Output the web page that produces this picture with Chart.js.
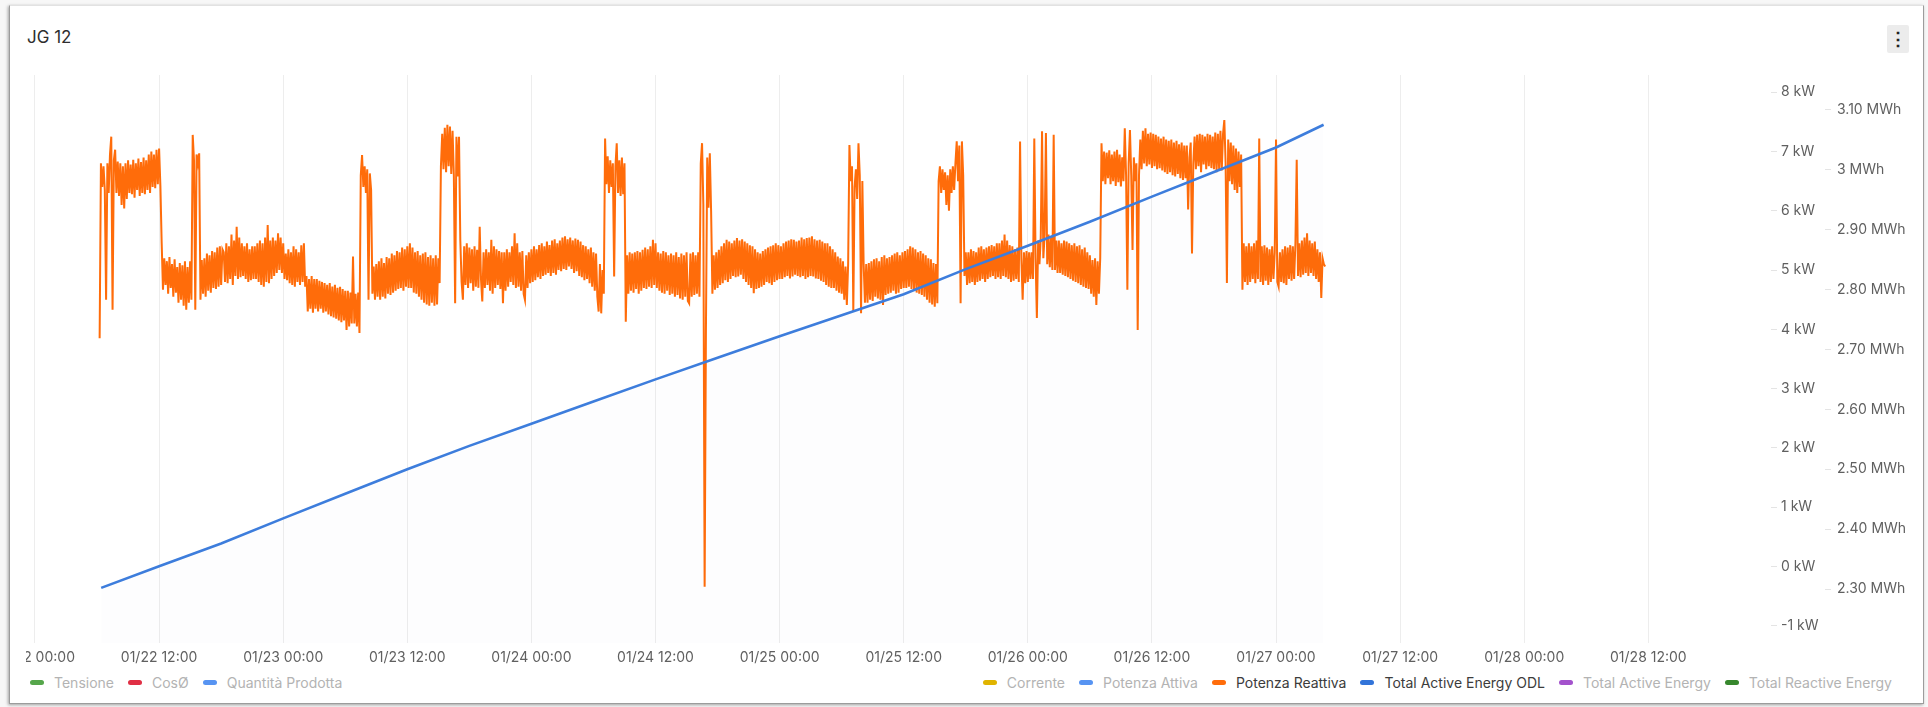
<!DOCTYPE html>
<html>
<head>
<meta charset="utf-8">
<script src="https://cdn.jsdelivr.net/npm/chart.js@4.4.1/dist/chart.umd.min.js"></script>
<style>
  html, body { margin: 0; padding: 0; background: #f7f7f7; }
  body { width: 1928px; height: 707px; position: relative; overflow: hidden; font-family: Inter, "Noto Sans", sans-serif; }
  #card { position: absolute; left: 9px; top: 5px; width: 1915px; height: 699px; box-sizing: border-box; background: #fff;
          border: 1px solid #9c9c9c; border-top-color: #e2e2e2; box-shadow: -1px 1px 3px rgba(0,0,0,0.35); overflow: hidden; }
  #title { position: absolute; left: 17px; top: 21px; font-size: 17px; color: #2e2e2e; }
  #menu { position: absolute; left: 1877px; top: 19px; width: 22px; height: 28px; background: #ececec; border-radius: 2px;
          color: #222; font-size: 18px; line-height: 28px; text-align: center; font-weight: bold; }
  #clip { position: absolute; left: 16px; top: 54px; width: 1930px; height: 616px; overflow: hidden; }
  #wrap { position: absolute; left: -66px; top: 0; width: 1990px; height: 610px; }
  .legend { position: absolute; top: 667px; height: 18px; display: flex; align-items: center; font-size: 14px; white-space: nowrap; }
  #legendLeft { left: 20px; }
  #legendRight { right: 31px; }
  .item { display: flex; align-items: center; margin-right: 14px; }
  .item:last-child { margin-right: 0; }
  .mark { width: 14px; height: 5px; border-radius: 3px; margin-right: 10px; }
</style>
</head>
<body>
<div id="card">
  <div id="title">JG 12</div>
  <div id="menu">&#8942;</div>
  <div id="clip"><div id="wrap"><canvas id="powerChart"></canvas></div></div>
  <div class="legend" id="legendLeft"></div>
  <div class="legend" id="legendRight"></div>
</div>
<script>
// hours are counted from 01/22 00:00, one row = 3 hours
const reactiveStartHour = 6.25;
const reactiveStepHours = 0.125;
const reactiveKw = [
  3.85, 6.80, 6.40, 6.75, 6.35, 4.50, 6.80, 6.30, 6.95, 7.25, 4.33, 6.85, 7.03, 6.30, 6.83, 6.25, 6.80, 6.10, 6.75, 6.04, 6.80, 6.20, 6.85, 6.30,
  6.78, 6.28, 6.86, 6.22, 6.80, 6.35, 6.88, 6.25, 6.82, 6.30, 6.90, 6.28, 6.85, 6.35, 6.95, 6.30, 7.00, 6.40, 6.95, 6.38, 7.03, 6.45, 7.05, 6.42,
  5.45, 4.67, 5.20, 4.75, 5.15, 4.60, 5.22, 4.70, 5.10, 4.55, 5.18, 4.62, 5.05, 4.45, 5.12, 4.50, 5.08, 4.40, 5.15, 4.33, 5.05, 4.45, 5.15, 4.50,
  7.28, 6.85, 4.33, 6.95, 6.80, 6.97, 4.50, 5.17, 4.60, 5.20, 4.55, 5.28, 4.65, 5.25, 4.62, 5.32, 4.70, 5.30, 4.68, 5.38, 4.72, 5.40, 4.75, 5.35,
  5.30, 4.80, 5.45, 4.78, 5.40, 4.85, 5.60, 4.75, 5.50, 4.90, 5.73, 4.85, 5.55, 4.88, 5.45, 4.90, 5.40, 4.85, 5.45, 4.80, 5.35, 4.83, 5.40, 4.85,
  5.40, 4.85, 5.45, 4.80, 5.50, 4.75, 5.45, 4.72, 5.55, 4.80, 5.76, 4.78, 5.50, 4.85, 5.55, 4.90, 5.50, 4.95, 5.62, 5.00, 5.55, 4.95, 5.45, 4.85,
  5.28, 4.83, 5.35, 4.78, 5.30, 4.75, 5.40, 4.72, 5.35, 4.80, 5.30, 4.75, 5.42, 4.80, 5.45, 4.72, 4.90, 4.30, 4.85, 4.35, 4.90, 4.28, 4.85, 4.35,
  4.85, 4.30, 4.82, 4.35, 4.80, 4.28, 4.78, 4.30, 4.75, 4.25, 4.78, 4.22, 4.72, 4.20, 4.75, 4.18, 4.70, 4.15, 4.72, 4.12, 4.68, 4.15, 4.65, 3.99,
  4.65, 4.05, 4.62, 4.10, 5.23, 4.10, 4.60, 4.05, 4.62, 3.94, 6.60, 6.94, 6.40, 6.75, 6.30, 6.70, 4.50, 6.63, 6.35, 4.60, 5.06, 4.50, 5.10, 4.55,
  5.15, 4.50, 5.20, 4.55, 5.12, 4.52, 5.22, 4.60, 5.20, 4.58, 5.28, 4.62, 5.25, 4.65, 5.32, 4.68, 5.30, 4.70, 5.38, 4.65, 5.35, 4.72, 5.40, 4.70,
  5.45, 4.70, 5.38, 4.62, 5.30, 4.60, 5.32, 4.55, 5.25, 4.50, 5.28, 4.45, 5.30, 4.42, 5.22, 4.40, 5.25, 4.45, 5.20, 4.40, 5.25, 4.42, 5.20, 4.78,
  6.75, 7.30, 6.70, 7.40, 6.65, 7.45, 6.75, 7.42, 6.62, 7.35, 6.60, 4.44, 7.25, 6.58, 7.25, 5.50, 4.80, 4.50, 5.40, 4.75, 5.45, 4.70, 5.38, 4.78,
  5.35, 4.65, 5.40, 4.72, 5.34, 4.70, 5.73, 4.85, 4.47, 5.30, 4.70, 5.35, 4.75, 5.30, 4.65, 5.51, 4.60, 5.40, 4.70, 5.35, 4.75, 5.32, 4.68, 5.30,
  4.44, 5.30, 4.65, 5.35, 4.72, 5.30, 4.80, 5.40, 4.75, 5.62, 4.70, 5.45, 4.72, 5.30, 4.65, 5.32, 4.60, 4.50, 5.25, 4.70, 5.30, 4.78, 5.35, 4.80,
  5.40, 4.83, 5.35, 4.88, 5.42, 4.85, 5.45, 4.90, 5.40, 4.92, 5.48, 4.95, 5.42, 4.90, 5.50, 4.95, 5.52, 4.92, 5.45, 5.00, 5.50, 4.98, 5.55, 5.02,
  5.57, 5.00, 5.52, 5.06, 5.55, 5.02, 5.50, 4.95, 5.53, 4.98, 5.51, 4.90, 5.48, 4.88, 5.42, 4.83, 5.40, 4.85, 5.35, 4.78, 5.38, 4.72, 5.30, 4.65,
  5.28, 4.55, 4.30, 5.10, 4.27, 5.00, 4.60, 7.22, 6.45, 6.92, 6.30, 6.85, 6.40, 6.80, 4.89, 6.75, 7.14, 6.30, 6.85, 6.25, 6.90, 6.28, 6.80, 4.13,
  5.25, 4.60, 5.30, 4.65, 5.28, 4.62, 5.30, 4.68, 5.32, 4.60, 5.30, 4.65, 5.34, 4.70, 5.38, 4.68, 5.35, 4.72, 5.40, 4.70, 5.51, 4.75, 5.45, 4.70,
  5.30, 4.65, 5.28, 4.62, 5.32, 4.60, 5.30, 4.65, 5.25, 4.58, 5.28, 4.60, 5.25, 4.55, 5.30, 4.58, 5.22, 4.52, 5.28, 4.50, 5.25, 4.55, 5.30, 4.48,
  4.44, 5.28, 4.55, 5.30, 4.58, 5.25, 4.60, 5.30, 4.55, 6.80, 7.14, 6.10, -0.34, 3.99, 6.90, 6.05, 6.97, 6.00, 4.60, 5.25, 4.67, 5.30, 4.70, 5.34,
  4.75, 5.40, 4.78, 5.45, 4.83, 5.51, 4.80, 5.48, 4.85, 5.45, 4.90, 5.50, 4.88, 5.54, 4.89, 5.50, 4.92, 5.52, 4.85, 5.48, 4.80, 5.45, 4.75, 5.42,
  4.70, 5.40, 4.61, 5.35, 4.68, 5.30, 4.70, 5.28, 4.72, 5.32, 4.75, 5.35, 4.80, 5.38, 4.78, 5.40, 4.75, 5.42, 4.80, 5.45, 4.83, 5.42, 4.85, 5.40,
  4.85, 5.45, 4.88, 5.48, 4.90, 5.50, 4.86, 5.52, 4.89, 5.51, 4.92, 5.48, 4.90, 5.50, 4.88, 5.55, 4.90, 5.52, 4.85, 5.54, 4.88, 5.55, 4.90, 5.57,
  4.89, 5.52, 4.86, 5.50, 4.85, 5.51, 4.82, 5.48, 4.80, 5.45, 4.75, 5.45, 4.72, 5.40, 4.70, 5.35, 4.70, 5.30, 4.65, 5.23, 4.62, 5.20, 4.60, 5.15,
  4.50, 5.06, 4.41, 5.10, 7.11, 6.50, 6.75, 4.30, 6.40, 6.70, 6.20, 7.14, 6.60, 4.27, 6.50, 5.10, 4.45, 5.10, 4.45, 5.12, 4.50, 5.15, 4.48, 5.18,
  4.55, 5.20, 4.52, 5.15, 4.50, 5.22, 4.41, 5.25, 4.58, 5.20, 4.60, 5.22, 4.62, 5.25, 4.65, 5.28, 4.60, 5.30, 4.62, 5.25, 4.68, 5.30, 4.70, 5.32,
  4.70, 5.35, 4.72, 5.40, 4.68, 5.38, 4.65, 5.35, 4.62, 5.30, 4.60, 5.32, 4.58, 5.28, 4.55, 5.25, 4.50, 5.20, 4.45, 5.18, 4.42, 5.12, 4.38, 5.10,
  4.44, 6.50, 6.75, 6.30, 6.70, 6.35, 6.65, 6.10, 6.60, 6.00, 6.70, 6.30, 6.75, 6.35, 6.80, 7.17, 6.50, 7.10, 4.44, 7.17, 6.60, 4.90, 5.30, 4.75,
  5.30, 4.78, 5.35, 4.80, 5.32, 4.75, 5.30, 4.80, 5.38, 4.82, 5.40, 4.85, 5.35, 4.80, 5.38, 4.85, 5.40, 4.88, 5.42, 4.90, 5.40, 4.85, 5.45, 4.88,
  5.45, 4.85, 5.50, 4.90, 5.60, 4.88, 5.50, 4.85, 5.42, 4.80, 5.40, 4.82, 5.35, 4.85, 5.38, 4.80, 7.17, 5.20, 4.50, 5.30, 4.78, 5.32, 4.80, 5.30,
  4.85, 5.30, 4.85, 7.22, 5.20, 4.19, 5.50, 5.10, 5.55, 7.34, 5.20, 5.60, 7.31, 5.10, 5.60, 5.05, 5.55, 5.00, 7.28, 5.00, 5.50, 4.95, 5.50, 4.95,
  5.45, 4.92, 5.50, 4.90, 5.48, 4.88, 5.45, 4.85, 5.42, 4.82, 5.45, 4.80, 5.40, 4.78, 5.42, 4.75, 5.35, 4.72, 5.38, 4.70, 5.30, 4.68, 5.25, 4.60,
  5.17, 4.55, 5.20, 4.41, 5.15, 4.60, 5.20, 7.14, 6.50, 7.00, 6.45, 6.98, 6.55, 7.02, 6.45, 6.95, 6.50, 7.00, 6.42, 7.03, 6.48, 6.95, 6.41, 6.90,
  6.50, 7.39, 6.60, 4.67, 6.80, 7.36, 6.60, 5.34, 6.90, 6.50, 6.80, 3.99, 6.60, 7.20, 6.70, 7.35, 6.80, 7.39, 6.75, 7.30, 6.78, 7.32, 6.72, 7.30,
  6.75, 7.28, 6.70, 7.25, 6.72, 7.22, 6.68, 7.25, 6.65, 7.20, 6.62, 7.18, 6.65, 7.20, 6.60, 7.15, 6.58, 7.18, 6.62, 7.12, 6.55, 7.15, 6.52, 7.10,
  6.55, 7.10, 6.02, 6.90, 7.15, 5.28, 6.80, 7.25, 6.70, 7.28, 6.75, 7.30, 6.65, 7.28, 6.78, 7.25, 6.70, 7.30, 6.75, 7.28, 6.72, 7.25, 6.70, 7.32,
  6.65, 7.30, 6.70, 7.35, 6.68, 7.30, 7.53, 6.80, 4.78, 7.20, 6.50, 7.15, 6.45, 7.10, 6.35, 7.05, 6.30, 7.00, 6.40, 6.95, 4.67, 5.45, 4.80, 5.40,
  4.75, 5.45, 4.80, 5.40, 4.85, 5.45, 4.78, 5.50, 4.85, 7.22, 4.80, 5.40, 4.75, 5.42, 4.82, 5.38, 4.75, 5.35, 4.80, 5.40, 4.85, 5.30, 7.20, 4.80,
  4.72, 5.30, 4.80, 5.35, 4.78, 5.40, 4.75, 5.38, 4.85, 5.42, 4.82, 5.40, 4.85, 5.45, 6.86, 4.90, 5.45, 4.88, 5.50, 4.92, 5.55, 4.95, 5.62, 4.90,
  5.50, 4.95, 5.45, 4.90, 5.48, 4.85, 5.35, 4.80, 5.30, 4.53, 5.20, 5.10, 5.06
];

const energyHours = [6.4, 12, 18, 24, 30, 36, 42, 48, 54, 60, 66, 72, 78, 84, 90, 96, 102, 108, 114, 120, 124.6];
const energyMwh = [2.302, 2.338, 2.376, 2.418, 2.459, 2.500, 2.539, 2.576, 2.613, 2.650, 2.686,
                   2.722, 2.757, 2.792, 2.834, 2.873, 2.913, 2.955, 2.996, 3.037, 3.075];

const seriesNames = ["Tensione", "CosØ", "Quantità Prodotta", "Corrente", "Potenza Attiva",
                     "Potenza Reattiva", "Total Active Energy ODL", "Total Active Energy", "Total Reactive Energy"];
const seriesColors = ["#56a64b", "#e02f44", "#5794f2", "#e0b400", "#5794f2",
                      "#ff6c0a", "#3274d9", "#a352cc", "#37872d"];
const seriesHidden = [true, true, true, true, true, false, false, true, true];
const seriesSide = ["left", "left", "left", "right", "right", "right", "right", "right", "right"];

const xMinHour = -1.45, xMaxHour = 167.86, xStepHours = 12;
const kwMin = -1.29, kwMax = 8.29, kwStep = 1;
const mwhMin = 2.21, mwhMax = 3.158, mwhStep = 0.1;

const reactivePoints = reactiveKw.map((v, i) => ({ x: reactiveStartHour + i * reactiveStepHours, y: v }));
const energyPoints = energyHours.map((h, i) => ({ x: h, y: energyMwh[i] }));

const pad2 = (n) => String(n).padStart(2, "0");
function hourLabel(h) {
  const day = Math.floor(h / 24);
  return "01/" + pad2(22 + day) + " " + pad2(Math.round(h - day * 24)) + ":00";
}

const datasets = seriesNames.map((name, i) => {
  const isEnergy = name === "Total Active Energy ODL";
  const isReactive = name === "Potenza Reattiva";
  return {
    label: name,
    data: isReactive ? reactivePoints : isEnergy ? energyPoints : [],
    hidden: seriesHidden[i],
    borderColor: isEnergy ? "#3d7ddc" : seriesColors[i],
    backgroundColor: isEnergy ? "rgba(40, 40, 90, 0.008)" : seriesColors[i],
    borderWidth: isEnergy ? 2.6 : 2,
    fill: isEnergy ? "start" : false,
    pointRadius: 0,
    tension: 0,
    order: isEnergy ? 0 : 1,
    yAxisID: /Energy/.test(name) ? "y1" : "y"
  };
});

Chart.defaults.font.family = "Inter, 'Noto Sans', sans-serif";
Chart.defaults.font.size = 14;
Chart.defaults.color = "#606060";

const chart = new Chart(document.getElementById("powerChart"), {
  type: "line",
  data: { datasets },
  options: {
    responsive: true,
    maintainAspectRatio: false,
    animation: false,
    layout: { padding: { left: 60, top: 15, right: 25, bottom: 3 } },
    plugins: { legend: { display: false }, tooltip: { enabled: false } },
    scales: {
      x: {
        type: "linear",
        min: xMinHour,
        max: xMaxHour,
        afterFit: (s) => { s.height = 24; },
        border: { display: false },
        grid: { color: "#ededed", drawTicks: false },
        ticks: {
          stepSize: xStepHours,
          includeBounds: false,
          autoSkip: false,
          maxRotation: 0,
          padding: 6,
          callback: (v) => hourLabel(v)
        }
      },
      y: {
        position: "right",
        min: kwMin,
        max: kwMax,
        afterFit: (s) => { s.width = 54; },
        border: { display: false },
        grid: { drawOnChartArea: false, tickLength: 6, color: "#e4e4e4" },
        ticks: { stepSize: kwStep, includeBounds: false, padding: 4, callback: (v) => v + " kW" }
      },
      y1: {
        position: "right",
        min: mwhMin,
        max: mwhMax,
        afterFit: (s) => { s.width = 100; },
        border: { display: false },
        grid: { drawOnChartArea: false, tickLength: 6, color: "#e4e4e4" },
        ticks: {
          stepSize: mwhStep,
          includeBounds: false,
          padding: 6,
          callback: (v) => {
            const r = Math.round(v * 100) / 100;
            return (Number.isInteger(r) ? String(r) : r.toFixed(2)) + " MWh";
          }
        }
      }
    }
  }
});

// legend split in two groups, as in the dashboard panel
chart.data.datasets.forEach((ds, i) => {
  const item = document.createElement("div");
  item.className = "item";
  const mark = document.createElement("span");
  mark.className = "mark";
  mark.style.background = seriesColors[i];
  const text = document.createElement("span");
  text.textContent = ds.label;
  text.style.color = ds.hidden ? "#b3b3b3" : "#3c3c3c";
  item.appendChild(mark);
  item.appendChild(text);
  document.getElementById(seriesSide[i] === "left" ? "legendLeft" : "legendRight").appendChild(item);
});
</script>
</body>
</html>
